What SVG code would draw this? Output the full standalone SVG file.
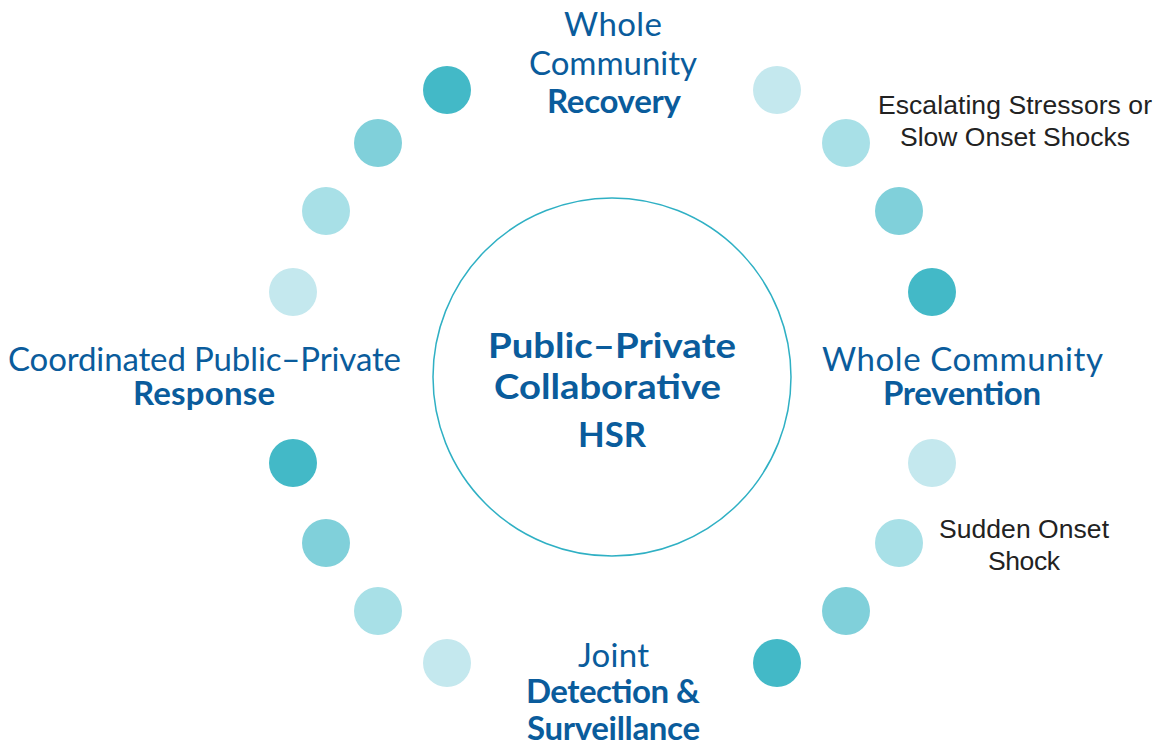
<svg xmlns="http://www.w3.org/2000/svg" width="1157" height="744" viewBox="0 0 1157 744">
<style>
.t{font-family:Lato,"Open Sans","Liberation Sans",sans-serif;fill:#0A5C9C;text-anchor:middle;font-size:33px}
.b{font-weight:bold}
.m{font-size:35px}
.g{font-family:"Liberation Sans",Arial,sans-serif;fill:#222;text-anchor:middle;font-size:26.5px}
.c1{fill:#43B9C7}.c2{fill:#80D0DA}.c3{fill:#A8E0E7}.c4{fill:#C4E8EE}
</style>
<rect width="1157" height="744" fill="#fff"/>
<g id="dots">
<circle class="c1" cx="447" cy="90" r="24"/>
<circle class="c2" cx="378" cy="143" r="24"/>
<circle class="c3" cx="326" cy="211" r="24"/>
<circle class="c4" cx="293" cy="292" r="24"/>
<circle class="c4" cx="777" cy="90" r="24"/>
<circle class="c3" cx="846" cy="143" r="24"/>
<circle class="c2" cx="899" cy="211" r="24"/>
<circle class="c1" cx="932" cy="292" r="24"/>
<circle class="c4" cx="932" cy="463" r="24"/>
<circle class="c3" cx="899" cy="543" r="24"/>
<circle class="c2" cx="846" cy="611" r="24"/>
<circle class="c1" cx="777" cy="663" r="24"/>
<circle class="c1" cx="293" cy="463" r="24"/>
<circle class="c2" cx="326" cy="543" r="24"/>
<circle class="c3" cx="378" cy="611" r="24"/>
<circle class="c4" cx="447" cy="663" r="24"/>
</g>
<g id="center">
<circle cx="612" cy="377" r="179" fill="none" stroke="#2FB0C4" stroke-width="1.5"/>
<text class="t b m" x="612" y="358" textLength="248" lengthAdjust="spacingAndGlyphs">Public–Private</text>
<text class="t b m" x="607.5" y="399" textLength="227" lengthAdjust="spacingAndGlyphs">Collaborative</text>
<text class="t b m" x="612" y="447" textLength="68" lengthAdjust="spacingAndGlyphs">HSR</text>
</g>
<g id="recovery">
<text class="t" x="613" y="36" textLength="98">Whole</text>
<text class="t" x="613" y="75" textLength="168">Community</text>
<text class="t b" x="614" y="113" textLength="134">Recovery</text>
</g>
<g id="response">
<text class="t" x="204.5" y="371" textLength="393">Coordinated Public–Private</text>
<text class="t b" x="204" y="405" textLength="142">Response</text>
</g>
<g id="prevention">
<text class="t" x="962.5" y="371" textLength="281">Whole Community</text>
<text class="t b" x="962" y="405" textLength="158">Prevention</text>
</g>
<g id="detection">
<text class="t" x="613.5" y="667" textLength="71">Joint</text>
<text class="t b" x="613" y="703" textLength="174">Detection &amp;</text>
<text class="t b" x="613.5" y="740" textLength="173">Surveillance</text>
</g>
<g id="escalating">
<text class="g" x="1015" y="114" textLength="274">Escalating Stressors or</text>
<text class="g" x="1015" y="146" textLength="230">Slow Onset Shocks</text>
</g>
<g id="sudden">
<text class="g" x="1024" y="538" textLength="170">Sudden Onset</text>
<text class="g" x="1024" y="570" textLength="72">Shock</text>
</g>
</svg>
